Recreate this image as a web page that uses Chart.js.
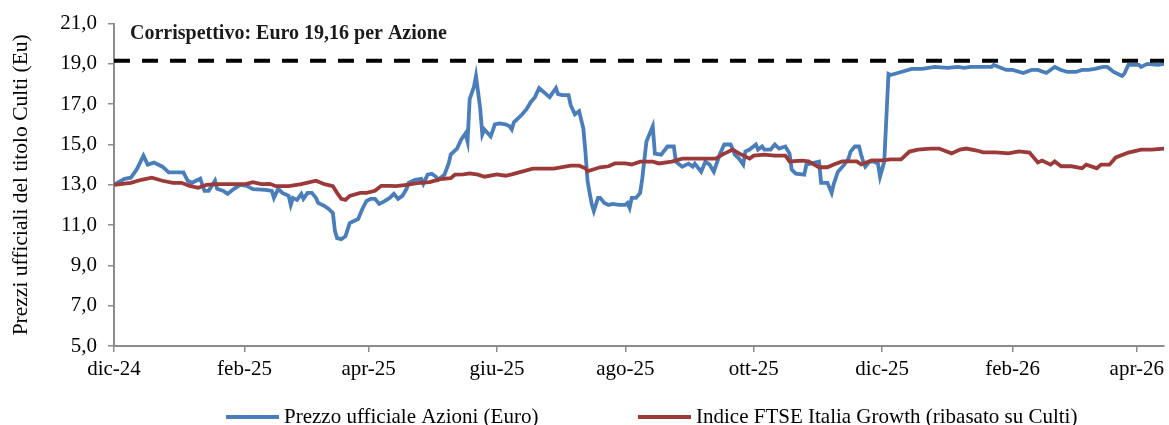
<!DOCTYPE html>
<html>
<head>
<meta charset="utf-8">
<script src="https://cdn.jsdelivr.net/npm/chart.js@4.4.1/dist/chart.umd.min.js"></script>
<style>
  body { margin: 0; background: #fff; }
  #wrap { width: 1169px; height: 425px; }
</style>
</head>
<body>
<div id="wrap"><canvas id="chart"></canvas></div>
<script>
// giorni dal 1 dic 2024
const priceDays = [0, 5, 8, 11, 14, 16, 19, 23, 26, 33, 35, 37, 41, 43, 45, 48, 49, 52, 54, 57, 60, 63, 66, 72, 75, 76, 78, 80, 83, 84, 85, 87, 89, 90, 92, 94, 96, 97, 100, 102, 104, 105, 106, 108, 110, 112, 114, 116, 118, 120, 122, 124, 126, 128, 131, 133, 135, 137, 139, 140, 143, 146, 147, 149, 151, 153, 154, 157, 159, 160, 163, 165, 167, 168, 169, 171, 172, 174, 175, 176, 179, 181, 183, 186, 188, 189, 190, 194, 196, 198, 200, 202, 207, 210, 211, 213, 216, 217, 219, 221, 223, 224, 225, 226, 227, 228, 230, 231, 233, 235, 237, 240, 243, 244, 245, 246, 248, 250, 251, 253, 256, 257, 260, 263, 266, 267, 270, 273, 275, 276, 279, 281, 283, 285, 288, 290, 293, 295, 297, 299, 300, 302, 305, 306, 308, 309, 312, 314, 316, 319, 321, 322, 324, 328, 329, 331, 335, 336, 339, 341, 342, 344, 347, 349, 350, 352, 354, 355, 356, 357, 359, 361, 363, 364, 366, 368, 369, 374, 379, 384, 390, 396, 401, 404, 407, 412, 417, 418, 424, 427, 432, 436, 439, 443, 447, 450, 453, 457, 460, 463, 466, 470, 472, 475, 479, 480, 482, 487, 488, 491, 496, 499];
const priceValues = [13.0, 13.3, 13.35, 13.8, 14.45, 14.0, 14.1, 13.9, 13.62, 13.62, 13.2, 13.1, 13.3, 12.7, 12.7, 13.2, 12.8, 12.7, 12.55, 12.8, 13.0, 12.95, 12.78, 12.75, 12.7, 12.35, 12.8, 12.6, 12.45, 12.0, 12.35, 12.25, 12.55, 12.3, 12.6, 12.6, 12.35, 12.1, 11.95, 11.8, 11.6, 10.7, 10.35, 10.3, 10.45, 11.1, 11.2, 11.3, 11.8, 12.2, 12.3, 12.3, 12.05, 12.15, 12.35, 12.55, 12.3, 12.45, 12.8, 13.1, 13.25, 13.3, 13.05, 13.5, 13.55, 13.4, 13.25, 13.5, 14.05, 14.5, 14.8, 15.25, 15.55, 15.15, 17.25, 17.85, 18.4, 16.8, 15.5, 15.75, 15.4, 16.0, 16.05, 16.0, 15.9, 15.75, 16.1, 16.5, 16.75, 17.1, 17.35, 17.8, 17.35, 17.8, 17.5, 17.45, 17.45, 16.95, 16.5, 16.65, 15.8, 14.65, 13.2, 12.6, 12.05, 11.7, 12.35, 12.35, 12.1, 12.0, 12.05, 12.0, 12.0, 12.1, 11.85, 12.35, 12.35, 12.6, 13.3, 15.15, 15.9, 14.55, 14.5, 14.9, 14.9, 14.15, 13.9, 14.05, 13.9, 14.05, 13.65, 14.15, 14.0, 13.65, 14.55, 15.0, 15.0, 14.5, 14.3, 14.0, 14.65, 14.75, 15.0, 14.75, 14.9, 14.75, 14.75, 15.0, 14.8, 14.9, 14.55, 13.75, 13.55, 13.5, 14.0, 14.05, 14.15, 13.1, 13.1, 12.6, 13.05, 13.65, 14.0, 14.3, 14.65, 14.9, 14.9, 14.5, 14.15, 13.9, 14.15, 14.15, 14.05, 13.4, 14.15, 18.5, 18.45, 18.6, 18.75, 18.75, 18.85, 18.8, 18.85, 18.8, 18.85, 18.85, 18.85, 18.95, 18.7, 18.7, 18.55, 18.7, 18.7, 18.55, 18.85, 18.7, 18.6, 18.6, 18.7, 18.7, 18.75, 18.85, 18.85, 18.6, 18.4, 18.5, 18.95, 18.95, 18.85, 19.0, 18.95, 19.0];

const indexDays = [0, 8, 13, 18, 23, 28, 32, 36, 40, 44, 49, 56, 63, 66, 70, 74, 77, 83, 89, 96, 100, 104, 106, 108, 110, 112, 117, 120, 124, 127, 131, 134, 139, 144, 150, 155, 160, 162, 166, 169, 173, 176, 182, 186, 189, 199, 202, 209, 217, 221, 224, 225, 231, 235, 238, 243, 246, 250, 256, 259, 265, 270, 278, 286, 289, 294, 297, 302, 304, 309, 314, 319, 321, 327, 330, 335, 339, 342, 346, 353, 355, 360, 365, 369, 374, 378, 382, 388, 392, 398, 402, 405, 410, 413, 419, 425, 430, 435, 439, 441, 445, 447, 450, 455, 460, 462, 467, 469, 473, 476, 482, 488, 493, 499];
const indexValues = [13.0, 13.1, 13.25, 13.35, 13.2, 13.1, 13.1, 12.95, 12.85, 13.0, 13.03, 13.03, 13.05, 13.13, 13.03, 13.05, 12.93, 12.93, 13.03, 13.2, 13.03, 12.93, 12.6, 12.3, 12.25, 12.45, 12.6, 12.6, 12.7, 12.95, 12.95, 12.93, 13.0, 13.08, 13.13, 13.28, 13.33, 13.5, 13.52, 13.57, 13.5, 13.4, 13.52, 13.45, 13.52, 13.8, 13.8, 13.8, 13.95, 13.95, 13.82, 13.67, 13.87, 13.92, 14.06, 14.06, 14.01, 14.15, 14.15, 14.06, 14.15, 14.3, 14.3, 14.3, 14.5, 14.75, 14.56, 14.3, 14.45, 14.5, 14.45, 14.45, 14.16, 14.2, 14.16, 13.87, 13.87, 14.01, 14.16, 14.16, 14.01, 14.21, 14.21, 14.26, 14.26, 14.65, 14.75, 14.8, 14.8, 14.56, 14.75, 14.8, 14.7, 14.61, 14.61, 14.56, 14.66, 14.6, 14.11, 14.2, 14.0, 14.16, 13.92, 13.92, 13.82, 14.0, 13.82, 14.0, 14.0, 14.36, 14.6, 14.75, 14.75, 14.8];

const offerPrice = 19.16;
const tickDays = [0, 62, 121, 182, 243, 304, 365, 427, 486];
const tickLabels = ['dic-24', 'feb-25', 'apr-25', 'giu-25', 'ago-25', 'ott-25', 'dic-25', 'feb-26', 'apr-26'];

const FONT = "'Liberation Serif', 'Times New Roman', serif";
const axisGray = '#8c8c8c';

const toPoints = (xs, ys) => xs.map((x, i) => ({ x: x, y: ys[i] }));

// testo del corrispettivo + legenda in basso
const extras = {
    id: 'extras',
    afterDraw(chart) {
        const ctx = chart.ctx;
        const area = chart.chartArea;
        const y = chart.scales.y;
        ctx.save();
        ctx.fillStyle = '#1a1a1a';
        ctx.font = 'bold 20px ' + FONT;
        ctx.textBaseline = 'middle';
        ctx.fillText('Corrispettivo: Euro 19,16 per Azione', area.left + 16, y.getPixelForValue(20.47));

        const items = [
            { ds: chart.data.datasets[1], x: 226 },
            { ds: chart.data.datasets[2], x: 638 }
        ];
        ctx.font = '21px ' + FONT;
        items.forEach(it => {
            ctx.strokeStyle = it.ds.borderColor;
            ctx.lineWidth = 4;
            ctx.beginPath();
            ctx.moveTo(it.x, 417);
            ctx.lineTo(it.x + 53, 417);
            ctx.stroke();
            ctx.fillStyle = '#000';
            ctx.fillText(it.ds.label, it.x + 58, 417);
        });
        ctx.restore();
    }
};

new Chart(document.getElementById('chart'), {
    type: 'line',
    data: {
        datasets: [
            {
                label: 'Corrispettivo',
                data: [{ x: 0, y: offerPrice }, { x: 499, y: offerPrice }],
                borderColor: '#000',
                borderWidth: 4,
                borderDash: [16, 12],
                pointRadius: 0,
                order: 0
            },
            {
                label: 'Prezzo ufficiale Azioni (Euro)',
                data: toPoints(priceDays, priceValues),
                borderColor: '#4a7ebb',
                borderWidth: 3.8,
                pointRadius: 0,
                tension: 0,
                order: 2
            },
            {
                label: 'Indice FTSE Italia Growth (ribasato su Culti)',
                data: toPoints(indexDays, indexValues),
                borderColor: '#9b3a38',
                borderWidth: 3.8,
                pointRadius: 0,
                tension: 0,
                order: 1
            }
        ]
    },
    options: {
        responsive: true,
        maintainAspectRatio: false,
        animation: false,
        layout: { padding: { top: 21, right: 0, bottom: 0, left: 0 } },
        plugins: {
            legend: { display: false },
            tooltip: { enabled: false }
        },
        scales: {
            x: {
                type: 'linear',
                min: 0,
                max: 499,
                afterBuildTicks: s => { s.ticks = tickDays.map(v => ({ value: v })); },
                afterFit: s => { s.height = 79; },
                grid: { drawOnChartArea: false, drawTicks: true, tickLength: 6, color: axisGray, lineWidth: 1.5 },
                border: { color: axisGray, width: 2 },
                ticks: {
                    autoSkip: false,
                    maxRotation: 0,
                    padding: 5,
                    color: '#000',
                    font: { family: FONT, size: 21 },
                    callback: (v, i) => tickLabels[i]
                }
            },
            y: {
                min: 5,
                max: 21,
                afterFit: s => { s.width = 114; },
                grid: { drawOnChartArea: false, drawTicks: true, tickLength: 6, color: axisGray, lineWidth: 1.5 },
                border: { color: axisGray, width: 2 },
                ticks: {
                    stepSize: 2,
                    padding: 11,
                    color: '#000',
                    font: { family: FONT, size: 21 },
                    callback: v => v.toFixed(1).replace('.', ',')
                },
                title: {
                    display: true,
                    text: 'Prezzi ufficiali del titolo Culti (Eu)',
                    color: '#000',
                    font: { family: FONT, size: 21.5 },
                    padding: { top: 8, bottom: 0 }
                }
            }
        }
    },
    plugins: [extras]
});
</script>
</body>
</html>
